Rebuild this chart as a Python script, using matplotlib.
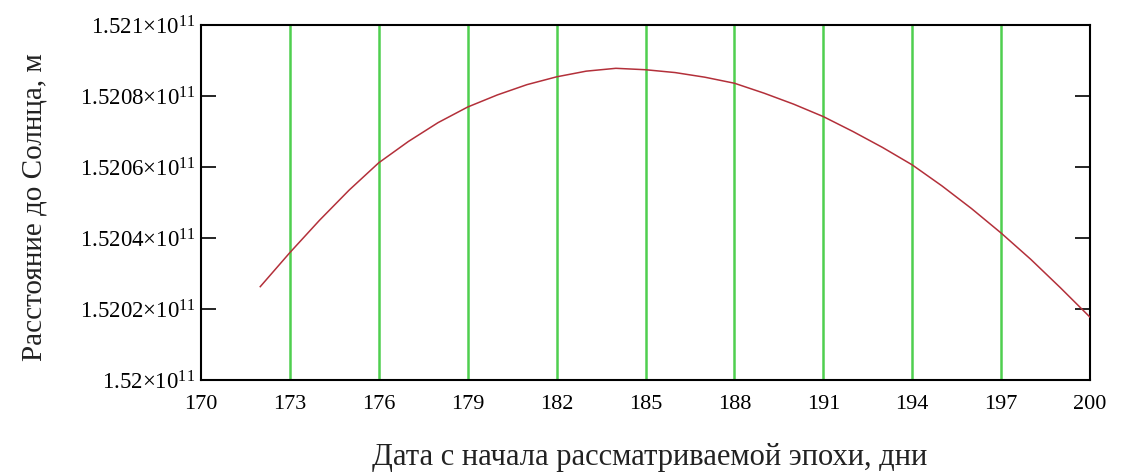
import matplotlib
matplotlib.use("Agg")
import matplotlib.pyplot as plt
import numpy as np

# Data (day, distance in metres)
days = [172, 173, 174, 175, 176, 177, 178, 179, 180, 181, 182, 183, 184, 185,
        186, 187, 188, 189, 190, 191, 192, 193, 194, 195, 196, 197, 198, 199, 200]
offset_1e7 = [2.63, 3.59, 4.50, 5.35, 6.12, 6.72, 7.25, 7.69, 8.03, 8.32, 8.54, 8.70, 8.78, 8.74,
              8.66, 8.53, 8.36, 8.08, 7.77, 7.42, 7.00, 6.55, 6.06, 5.47, 4.83, 4.14, 3.40, 2.60, 1.77]
distance = [1.52e11 + v * 1e7 for v in offset_1e7]

x_ticks = [170, 173, 176, 179, 182, 185, 188, 191, 194, 197, 200]
grid_days = [173, 176, 179, 182, 185, 188, 191, 194, 197]
y_ticks = [1.52e11, 1.5202e11, 1.5204e11, 1.5206e11, 1.5208e11, 1.521e11]
y_labels = ["1.52", "1.5202", "1.5204", "1.5206", "1.5208", "1.521"]

plt.rcParams['font.family'] = ['Liberation Serif', 'DejaVu Serif']
plt.rcParams['mathtext.fontset'] = 'custom'
plt.rcParams['mathtext.rm'] = 'Liberation Serif'
plt.rcParams['mathtext.it'] = 'Liberation Serif:italic'

fig = plt.figure(figsize=(11.25, 4.76), dpi=100)
ax = fig.add_axes([201/1125, 1 - 380/476, (1090 - 201)/1125, (380 - 25)/476])

for g in grid_days:
    ax.axvline(g, color='#4fcf4f', lw=1.8, zorder=1)

ax.plot(days, distance, color='#b3303a', lw=1.1, zorder=3)

ax.set_xlim(170, 200)
ax.set_ylim(1.52e11, 1.521e11)
ax.set_xticks(x_ticks)
ax.set_xticklabels([str(t) for t in x_ticks], fontsize=16)
ax.set_yticks(y_ticks)
ax.set_yticklabels([r"%s$\times$10$^{11}$" % s for s in y_labels], fontsize=16.5)

ax.tick_params(axis='x', length=0, pad=11)
ax.tick_params(axis='y', direction='in', length=11, width=1.2, left=True, right=True, pad=4)

for sp in ax.spines.values():
    sp.set_linewidth(1.5)
    sp.set_color('black')

fig.text(35/1125, 1 - 207/476, "Расстояние до Солнца, м", rotation=90,
         ha='center', va='center', fontsize=21, color='#222222')
fig.text(650/1125, 1 - 458/476, "Дата с начала рассматриваемой эпохи, дни",
         ha='center', va='center', fontsize=22, color='#222222')

fig.savefig("out.png", dpi=100)
